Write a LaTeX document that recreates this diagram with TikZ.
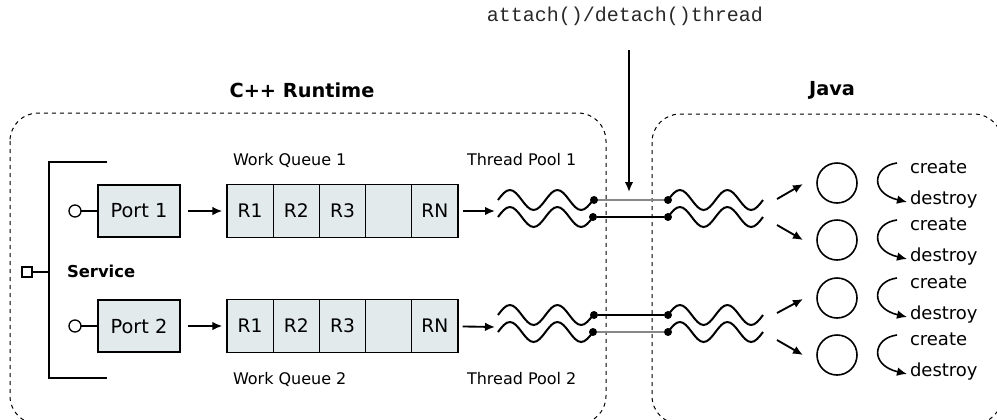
\documentclass[tikz,border=0pt]{standalone}
\usepackage{fontspec}
\setmainfont{DejaVu Sans}
\newfontfamily\monof{Liberation Mono}
\usetikzlibrary{arrows.meta,calc}
\definecolor{boxfill}{RGB}{226,234,235}
\definecolor{linkgray}{RGB}{135,135,135}
\definecolor{monogray}{RGB}{40,40,40}
\tikzset{
  wave/.pic={\draw[line width=1.5pt] (0,0) sin (11.875,-10) cos (23.75,0) sin (35.625,10) cos (47.5,0) sin (59.375,-10) cos (71.25,0) sin (83.125,10) cos (95,0);},
}
\begin{document}
\begin{tikzpicture}[x=0.75pt,y=-0.75pt,
  every node/.style={inner sep=0pt, outer sep=0pt},
  cell/.style={draw=black, line width=0.9pt, fill=boxfill, minimum width=34.65pt, minimum height=39.75pt, font=\fontsize{14}{16}\selectfont},
  portbox/.style={draw=black, line width=0.9pt, fill=boxfill, minimum width=61.5pt, minimum height=39pt, font=\fontsize{14.5}{16}\selectfont},
  lab/.style={font=\fontsize{12}{14}\selectfont, anchor=west},
  ttl/.style={font=\bfseries\fontsize{14.5}{16}\selectfont},
  svc/.style={font=\bfseries\fontsize{12.3}{14}\selectfont, anchor=west},
  cd/.style={font=\fontsize{13.5}{15}\selectfont, anchor=west},
  mono/.style={font=\monof\fontsize{15}{17}\selectfont, text=monogray},
  arr/.style={line width=1.4pt, -{Latex[length=7.5pt,width=6.5pt]}},
  carr/.style={line width=1.2pt, -{Latex[length=7.5pt,width=6.5pt]}},
  dashbox/.style={draw=black, line width=0.75pt, dash pattern=on 3pt off 3pt, rounded corners=21pt},
  dot/.style={circle, fill=black, minimum size=6pt},
  thin link/.style={line width=0.8pt, draw=black},
  gray link/.style={line width=1pt, draw=linkgray},
  ring/.style={circle, draw=black, line width=1.2pt, minimum size=30pt},
  pin/.style={circle, draw=black, line width=1pt, minimum size=9pt},
  sq/.style={rectangle, draw=black, line width=1pt, minimum size=7.5pt},
]
\useasboundingbox (0,0) rectangle (997,419);
\clip (0,0) rectangle (997,419);

% containers
\draw[dashbox] (10,113) rectangle (606,424);
\draw[dashbox] (652,114) rectangle (1002,424);
\node[ttl] (cpp) at (302,90) {C++ Runtime};
\node[ttl] (java) at (832,90) {Java};

% attach/detach
\node[mono] (att) at (625,16) {attach()/detach()thread};
\coordinate (attS) at (629,50);
\coordinate (attE) at (629,192);
\draw[arr] (attS) -- (attE);

% service bracket
\draw[line width=1.4pt] (107,162) -- (49,162) -- (49,378) -- (107,378);
\node[sq] (svcsq) at (27,272) {};
\coordinate (brk) at (49,272);
\draw[line width=1.2pt] (svcsq) -- (brk);
\node[svc] (svc) at (67,271) {Service};

% ports
\node[portbox] (p1) at (139,211) {Port 1};
\node[portbox] (p2) at (139,326) {Port 2};
\node[pin] (o1) at (75,211) {};
\node[pin] (o2) at (75,326) {};
\draw[line width=1.2pt] (o1) -- (p1);
\draw[line width=1.2pt] (o2) -- (p2);

% queues
\foreach \r/\y in {1/211,2/326}{
  \node[cell] (q\r a) at (250.1,\y) {R1};
  \node[cell] (q\r b) at (296.3,\y) {R2};
  \node[cell] (q\r c) at (342.5,\y) {R3};
  \node[cell] (q\r d) at (388.7,\y) {};
  \node[cell] (q\r e) at (434.9,\y) {RN};
}
\draw[arr, shorten <=6pt, shorten >=3.5pt] (p1) -- (q1a);
\draw[arr, shorten <=6pt, shorten >=3.5pt] (p2) -- (q2a);

\node[lab] (wq1) at (233,160) {Work Queue 1};
\node[lab] (wq2) at (233,379) {Work Queue 2};
\node[lab] (tp1) at (467,160) {Thread Pool 1};
\node[lab] (tp2) at (467,379) {Thread Pool 2};

% thread pools
\coordinate (w1in) at (495,211);
\coordinate (w2in) at (495,327);
\draw[arr, shorten <=3.5pt] (q1e) -- (w1in);
\draw[arr, shorten <=3.5pt] (q2e) -- (w2in);

\foreach \y in {200,217,315,332}{
  \pic at (498,\y) {wave};
  \pic at (668,\y) {wave};
}
\node[dot] (l1u) at (594,200) {};
\node[dot] (l1d) at (593,217) {};
\node[dot] (r1u) at (668,200) {};
\node[dot] (r1d) at (668,217) {};
\node[dot] (l2u) at (594,315) {};
\node[dot] (l2d) at (593,332) {};
\node[dot] (r2u) at (668,315) {};
\node[dot] (r2d) at (668,332) {};
\draw[gray link] (l1u) -- (r1u);
\draw[thin link] (l1d) -- (r1d);
\draw[thin link] (l2u) -- (r2u);
\draw[gray link] (l2d) -- (r2d);

% java threads
\node[ring] (c1) at (837,183) {};
\node[ring] (c2) at (837,240) {};
\node[ring] (c3) at (837,298) {};
\node[ring] (c4) at (837,355) {};
\coordinate (t1) at (777,199); \coordinate (h1) at (803,184);
\coordinate (t2) at (777,225); \coordinate (h2) at (803,240);
\coordinate (t3) at (777,313); \coordinate (h3) at (803,299);
\coordinate (t4) at (777,340); \coordinate (h4) at (803,355);
\draw[arr] (t1) -- (h1);
\draw[arr] (t2) -- (h2);
\draw[arr] (t3) -- (h3);
\draw[arr] (t4) -- (h4);

\foreach \k in {1,2,3,4}{
  \draw[carr] ($(c\k)+(60,-20)$) .. controls ($(c\k)+(36,-17)$) and ($(c\k)+(32,10)$) .. ($(c\k)+(70,19)$);
  \node[cd] (cr\k) at ($(c\k)+(73,-16)$) {create};
  \node[cd] (de\k) at ($(c\k)+(73,17)$) {destroy};
}
\end{tikzpicture}
\end{document}
